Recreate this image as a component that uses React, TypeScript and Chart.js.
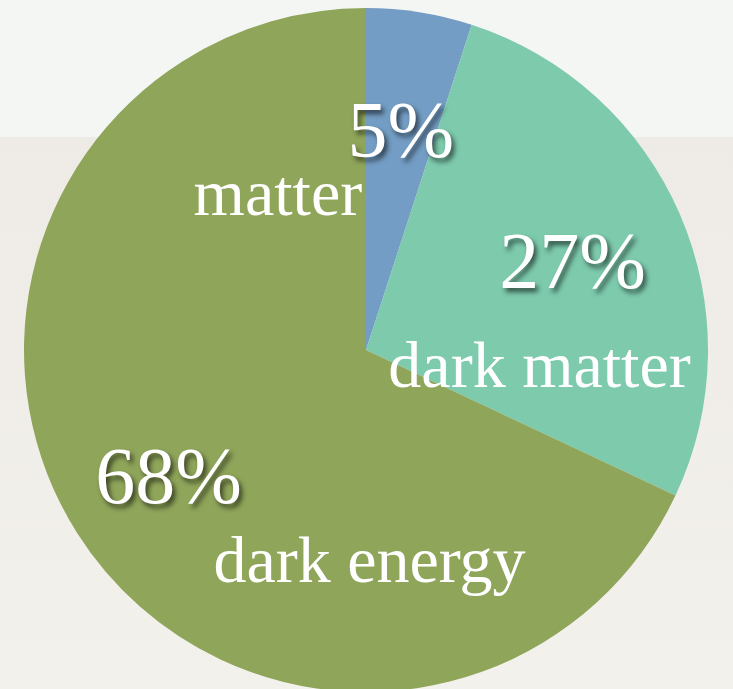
import React, { useEffect, useRef } from "react";
import { Chart, registerables } from "chart.js";

Chart.register(...registerables);

const categories = ["matter", "dark matter", "dark energy"];
const values = [5, 27, 68];
const percentLabels = ["5%", "27%", "68%"];
const sliceColors = ["#739dc4", "#7dcaad", "#8fa55a"];

// label styling (relative to each slice's mid-angle)
const pctRadiusFrac = [0.652, 0.658, 0.684];
const nameOffsets = [
  [-123, 85],
  [-33, 126],
  [201, 107],
];

const labelPlugin = {
  id: "sliceLabels",
  afterDatasetsDraw(chart: any) {
    const ctx = chart.ctx;
    const meta = chart.getDatasetMeta(0);
    meta.data.forEach((arc: any, i: number) => {
      const p = arc.getProps(["x", "y", "startAngle", "endAngle", "outerRadius"], true);
      const mid = (p.startAngle + p.endAngle) / 2;
      const r = p.outerRadius * pctRadiusFrac[i];
      const cx = p.x + Math.cos(mid) * r;
      const cy = p.y + Math.sin(mid) * r;
      const pctSize = 80;
      ctx.save();
      ctx.fillStyle = "#ffffff";
      ctx.textAlign = "center";
      ctx.textBaseline = "alphabetic";
      ctx.font = `${pctSize}px "Liberation Serif", "DejaVu Serif", serif`;
      ctx.shadowColor = "rgba(0,0,0,0.6)";
      ctx.shadowOffsetX = 3;
      ctx.shadowOffsetY = 4;
      ctx.shadowBlur = 5;
      ctx.fillText(percentLabels[i], cx, cy + pctSize * 0.34);
      ctx.restore();

      ctx.save();
      ctx.fillStyle = "#ffffff";
      ctx.textAlign = "center";
      ctx.textBaseline = "alphabetic";
      ctx.font = `66px "Liberation Serif", "DejaVu Serif", serif`;
      ctx.fillText(categories[i], cx + nameOffsets[i][0], cy + nameOffsets[i][1]);
      ctx.restore();
    });
  },
};

export default function App() {
  const ref = useRef<HTMLCanvasElement>(null);
  useEffect(() => {
    if (!ref.current) return;
    const chart = new Chart(ref.current, {
      type: "pie",
      data: {
        labels: categories,
        datasets: [
          {
            data: values,
            backgroundColor: sliceColors,
            borderWidth: 0,
            hoverOffset: 0,
          },
        ],
      },
      options: {
        responsive: false,
        animation: false,
        events: [],
        layout: { padding: { top: 8, bottom: 8, left: 24, right: 25 } },
        plugins: {
          legend: { display: false },
          tooltip: { enabled: false },
        },
      },
      plugins: [labelPlugin],
    });
    return () => chart.destroy();
  }, []);
  return (
    <div
      style={{
        position: "fixed",
        top: 0,
        left: 0,
        width: 733,
        height: 689,
        overflow: "hidden",
        background: "linear-gradient(to bottom, #f4f6f4 0px, #f4f6f4 137px, #eeebe6 137px, #f3f1ec 689px)",
      }}
    >
      <canvas ref={ref} width={733} height={700} style={{ display: "block" }} />
    </div>
  );
}
